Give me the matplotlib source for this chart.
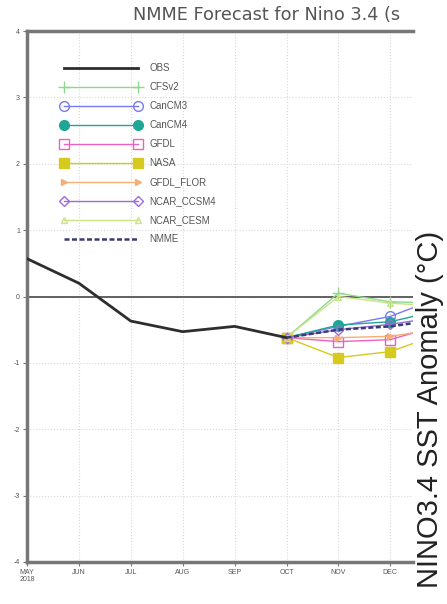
import matplotlib
matplotlib.use("Agg")
import matplotlib.pyplot as plt
import numpy as np

months = ["MAY\n2018", "JUN", "JUL", "AUG", "SEP", "OCT", "NOV", "DEC"]
obs = [0.57, 0.20, -0.37, -0.53, -0.45, -0.62]
fc_months = [5, 6, 7, 8]  # OCT .. JAN (JAN clipped by frame)
cfsv2 = [-0.62, 0.05, -0.08, -0.10]
cancm3 = [-0.62, -0.45, -0.30, 0.00]
cancm4 = [-0.62, -0.43, -0.38, -0.20]
gfdl = [-0.62, -0.68, -0.65, -0.42]
nasa = [-0.62, -0.92, -0.83, -0.55]
gfdl_flor = [-0.62, -0.62, -0.60, -0.48]
ncar_ccsm4 = [-0.62, -0.50, -0.42, -0.30]
ncar_cesm = [-0.62, 0.00, -0.10, -0.15]
nmme = [-0.62, -0.50, -0.45, -0.34]
yticks = [-4, -3, -2, -1, 0, 1, 2, 3, 4]

W, H = 447, 604
fig = plt.figure(figsize=(W / 100, H / 100), dpi=100)
plt.rcParams['font.family'] = ['Liberation Sans', 'DejaVu Sans']

ax = fig.add_axes([27 / W, 1 - 562 / H, (413 - 27) / W, (562 - 31) / H])
ax.set_xlim(0, (413 - 27) / 51.9)
ax.set_ylim(-4, 4)

ax.grid(True, color="#d8d8d8", linestyle=":", linewidth=0.8)
ax.axhline(0, color="#555555", linewidth=1.3, zorder=2)

ax.plot(range(len(obs)), obs, color="#2e2e2e", linewidth=2.0, label="OBS", zorder=5)

series = [
    ("CFSv2", cfsv2, dict(color="#8ed88e", marker="+", markersize=8, mfc="none")),
    ("CanCM3", cancm3, dict(color="#7a7af0", marker="o", markersize=7, mfc="none")),
    ("CanCM4", cancm4, dict(color="#1fa597", marker="o", markersize=7)),
    ("GFDL", gfdl, dict(color="#ee60c0", marker="s", markersize=7, mfc="none")),
    ("NASA", nasa, dict(color="#d6ca1e", marker="s", markersize=7)),
    ("GFDL_FLOR", gfdl_flor, dict(color="#f6ae72", marker=">", markersize=4)),
    ("NCAR_CCSM4", ncar_ccsm4, dict(color="#9c6cd6", marker="D", markersize=5, mfc="none")),
    ("NCAR_CESM", ncar_cesm, dict(color="#c9e386", marker="^", markersize=5, mfc="none")),
]
for name, vals, kw in series:
    ax.plot(fc_months, vals, linewidth=1.0, label=name, zorder=4, **kw)
ax.plot(fc_months, nmme, color="#3a3a78", linewidth=1.8, linestyle=(0, (2, 1)),
        label="NMME", zorder=6)

ax.set_xticks(range(len(months)))
ax.set_xticklabels(months, fontsize=5, color="#555555", linespacing=1.0)
ax.set_yticks(yticks)
ax.set_yticklabels([str(v) for v in yticks], fontsize=5, color="#555555")
ax.tick_params(axis="both", length=3, width=0.8, color="#777777", pad=2)

for s in ["left", "top", "bottom"]:
    ax.spines[s].set_color("#777777")
    ax.spines[s].set_linewidth(2.5)
ax.spines["right"].set_visible(False)

leg = ax.legend(loc="upper left", bbox_to_anchor=(0.078, 0.947), frameon=False,
                fontsize=7, handlelength=8.2, handletextpad=0.9, labelspacing=0.93,
                numpoints=2, borderaxespad=0)
for t in leg.get_texts():
    t.set_color("#555555")

fig.text(133 / W, 1 - 15 / H, "NMME Forecast for Nino 3.4 (s", fontsize=12.8,
         family="DejaVu Sans", color="#555555", ha="left", va="center")
fig.text(430 / W, 1 - 409 / H, "NINO3.4 SST Anomaly (\u00b0C)", fontsize=21,
         rotation=90, ha="center", va="center", color="#222222")

fig.savefig("out.png", dpi=100)
